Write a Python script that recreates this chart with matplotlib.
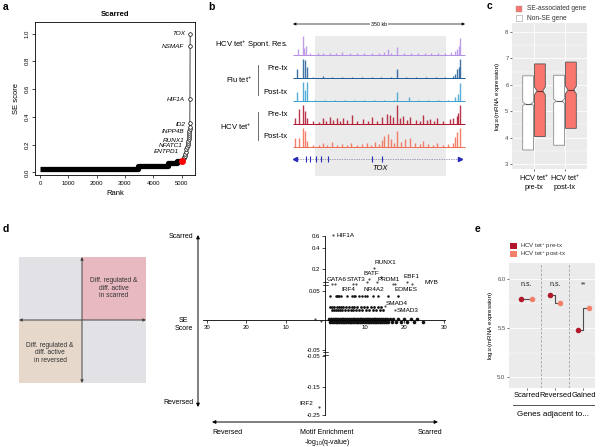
import matplotlib
matplotlib.use("Agg")
import matplotlib.pyplot as plt
import numpy as np
from matplotlib.patches import Rectangle

plt.rcParams["font.family"] = ["Liberation Sans", "DejaVu Sans"]
plt.rcParams["mathtext.fontset"] = "custom"
plt.rcParams["mathtext.rm"] = "Liberation Sans"
plt.rcParams["mathtext.it"] = "Liberation Sans:italic"

W, H = 600, 447

# ---------------- data ----------------
# a: super-enhancer rank plot (scarred)
plateau_rank = [0, 3470, 4500, 4830, 5040]
plateau_score = [0.022, 0.045, 0.065, 0.085, 0.085]
top_rank = [5070, 5090, 5110, 5130, 5150, 5170, 5190, 5210, 5225, 5240, 5250,
            5258, 5264, 5270, 5275, 5280, 5284, 5288, 5292, 5296, 5300]
top_score = [0.10, 0.11, 0.12, 0.135, 0.15, 0.165, 0.18, 0.195, 0.21, 0.225, 0.24,
             0.255, 0.27, 0.285, 0.30, 0.315, 0.33, 0.355, 0.527, 0.909, 1.0]
red_rank = [5020]
red_score = [0.085]
a_labels = ["TOX", "NSMAF", "HIF1A", "ID2", "INPP4B", "RUNX1", "NFATC1", "ENTPD1"]
a_label_x = [5115, 5090, 5115, 5140, 5090, 5090, 5020, 4900]
a_label_y = [1.0, 0.909, 0.527, 0.345, 0.295, 0.23, 0.19, 0.148]

# b: genome tracks at the TOX locus (position in kb, relative peak height)
spont_pos = [10, 20, 23, 26, 35, 50, 62, 75, 88, 100, 115, 130, 145, 160, 175, 185,
             193, 200, 212, 225, 240, 255, 268, 280, 295, 310, 322, 330, 334, 337, 340]
spont_h = [0.3, 1.0, 0.35, 0.45, 0.1, 0.08, 0.12, 0.1, 0.09, 0.14, 0.1, 0.12, 0.08, 0.13,
           0.1, 0.15, 0.3, 0.12, 0.4, 0.1, 0.12, 0.08, 0.13, 0.1, 0.09, 0.12, 0.15, 0.2,
           0.3, 0.5, 0.9]
flu_pre_pos = [8, 20, 24, 28, 40, 60, 80, 100, 120, 140, 160, 180, 200, 212, 230, 250,
               270, 290, 310, 325, 330, 334, 338, 340]
flu_pre_h = [0.5, 1.0, 0.95, 0.6, 0.06, 0.08, 0.05, 0.07, 0.05, 0.06, 0.05, 0.07, 0.06,
             0.5, 0.05, 0.06, 0.05, 0.06, 0.05, 0.08, 0.2, 0.45, 0.6, 1.0]
flu_post_pos = [8, 20, 24, 28, 45, 65, 85, 105, 125, 145, 165, 185, 205, 212, 236, 255,
                275, 295, 315, 330, 336, 340]
flu_post_h = [0.45, 1.0, 0.6, 1.0, 0.05, 0.07, 0.05, 0.06, 0.05, 0.07, 0.05, 0.06, 0.05,
              0.45, 0.2, 0.05, 0.06, 0.05, 0.06, 0.2, 0.35, 0.95]
hcv_pre_pos = [4, 12, 20, 24, 28, 40, 52, 61, 68, 75, 82, 89, 95, 102, 110, 120, 130,
               143, 152, 160, 170, 181, 191, 197, 204, 212, 218, 224, 231, 238, 250,
               258, 265, 272, 279, 286, 293, 305, 319, 326, 334, 336, 340]
hcv_pre_h = [0.3, 0.8, 1.0, 0.7, 0.3, 0.15, 0.12, 0.3, 0.15, 0.35, 0.2, 0.3, 0.18, 0.3,
             0.2, 0.45, 0.15, 0.25, 0.15, 0.35, 0.15, 0.35, 0.55, 0.5, 0.35, 1.0, 0.3,
             0.4, 0.2, 0.35, 0.2, 0.15, 0.5, 0.2, 0.25, 0.15, 0.3, 0.15, 0.25, 0.3, 0.4,
             0.6, 1.0]
hcv_post_pos = [4, 12, 20, 24, 28, 40, 52, 61, 70, 79, 90, 100, 110, 118, 130, 140, 150,
                158, 167, 175, 181, 185, 193, 199, 206, 212, 220, 228, 238, 248, 258, 265,
                275, 285, 293, 305, 315, 325, 330, 334, 340]
hcv_post_h = [0.5, 0.5, 1.0, 0.85, 0.3, 0.1, 0.12, 0.2, 0.12, 0.25, 0.1, 0.15, 0.12, 0.2,
              0.1, 0.15, 0.2, 0.12, 0.25, 0.15, 0.35, 0.6, 0.7, 0.4, 0.2, 0.85, 0.25, 0.4,
              0.45, 0.2, 0.15, 0.3, 0.15, 0.12, 0.2, 0.1, 0.15, 0.2, 0.55, 0.8, 1.0]
gene_exons = [26, 35, 47, 57, 71, 161, 181]

# c: expression of SE-associated vs non-SE genes
c_groups = ["HCV tet$^{+}$\npre-tx", "HCV tet$^{+}$\npost-tx"]
c_non_q1 = [3.53, 3.71]
c_non_med = [5.28, 5.38]
c_non_q3 = [6.34, 6.36]
c_non_ci = [(5.21, 5.35), (5.30, 5.46)]
c_se_q1 = [4.04, 4.35]
c_se_med = [5.77, 5.80]
c_se_q3 = [6.79, 6.86]
c_se_ci = [(5.62, 5.92), (5.66, 5.95)]

# d: SE score vs motif enrichment
d_row0_top_x = [1.0, 1.5, 1.9, 2.4, 2.8, 3.3, 3.7, 4.2, 4.6, 5.1, 5.5, 6.0, 6.4, 6.9,
                7.3, 7.8, 8.2, 8.7, 9.1, 9.6, 10.0, 10.5, 10.9, 11.4, 11.8, 12.3, 12.7,
                13.2, 13.6, 14.1, 14.5, 15.0, 15.6, 16.3, 17.2, 18.4, 19.9, 21.6, 23.3]
d_row0_bot_x = [1.2, 1.7, 2.1, 2.6, 3.0, 3.5, 3.9, 4.4, 4.8, 5.3, 5.7, 6.2, 6.6, 7.1,
                7.5, 8.0, 8.4, 8.9, 9.3, 9.8, 10.2, 10.7, 11.1, 11.6, 12.0, 12.5, 12.9,
                13.4, 13.8, 14.3, 14.8, 15.3, 15.9, 16.8, 17.8, 19.1, 20.6, 22.4, 24.8]
d_row2_top_x = [1.3, 1.8, 2.3, 2.9, 3.4, 4.0, 4.6, 5.3, 6.1, 6.8, 7.4, 8.1, 9.0, 9.8,
                10.6, 11.5, 12.4, 13.3, 14.2]
d_row2_bot_x = [1.6, 2.1, 2.6, 3.2, 3.7, 4.3, 5.0, 5.7, 6.5, 7.1, 7.8, 8.6, 9.4, 10.2,
                11.0, 12.0, 12.9, 13.8, 14.6]
d_row4_x = [1.2, 2.7, 3.0, 3.3, 3.5, 4.1, 5.4, 6.7, 7.3, 7.6, 8.6, 9.2, 10.0, 10.5,
            12.2, 13.4, 15.9, 18.4]
d_rows_y = [0.0025, -0.0025, 0.022, 0.018, 0.042]
d_other_x = [2.0, 12.4, 1.6, 2.5, 7.1, 7.9, 10.5, 11.1, 13.2, 14.1, 17.1, 17.6, 20.8,
             21.9, 15.1, 17.6, -1.5, -2.5, -1.2]
d_other_y = [0.61, 0.215, 0.10, 0.10, 0.10, 0.10, 0.11, 0.13, 0.11, 0.15, 0.10, 0.10,
             0.115, 0.10, 0.024, 0.017, -0.22, 0.001, -0.002]
d_labels = ["HIF1A", "RUNX1", "BATF", "GATA6", "STAT3", "PRDM1", "EBF1", "MYB", "IRF4",
            "NR4A2", "EOMES", "SMAD4", "SMAD3", "IRF2"]
d_label_x = [2.9, 12.4, 9.6, 0.35, 5.4, 13.2, 19.75, 25.0, 4.1, 9.6, 17.6, 15.3, 18.1, -3.0]
d_label_y = [0.616, 0.263, 0.172, 0.13, 0.126, 0.126, 0.153, 0.107, 0.057, 0.057, 0.057,
             0.029, 0.017, -0.209]
d_yticks = [0.6, 0.4, 0.2, 0.05, -0.05, -0.056, -0.15, -0.25]
d_yticklabels = ["0.6", "0.4", "0.2", "0.05", "-0.05", "-0.05", "-0.15", "-0.25"]
# broken SE-score axis: value -> vertical position
d_knot_val = [-0.35, -0.25, -0.15, -0.056, -0.05, 0.0, 0.05, 0.1, 0.2, 0.4, 0.6, 0.8]
d_knot_pos = [443.3, 415, 386.7, 356, 350, 320, 291, 283.7, 269.3, 248.3, 236, 223.7]

# e: expression of genes adjacent to scarred / reversed / gained SEs
e_groups = ["Scarred", "Reversed", "Gained"]
e_pre = [5.80, 5.84, 5.48]
e_post = [5.80, 5.76, 5.70]
e_sig = ["n.s.", "n.s.", "**"]


def rect(x0, y0, x1, y1):
    return [x0 / W, 1 - y1 / H, (x1 - x0) / W, (y1 - y0) / H]


fig = plt.figure(figsize=(W / 100, H / 100), dpi=100)

ov = fig.add_axes([0, 0, 1, 1])
ov.set_xlim(0, W)
ov.set_ylim(H, 0)
ov.axis("off")

for lab, (x, y) in zip("abcde", [(3, 7), (208, 7), (487, 6), (3, 229), (475, 229)]):
    ov.text(x, y, lab, fontsize=7.5, fontweight="bold", va="center", ha="left")

# ---------------- panel a ----------------
ax_a = fig.add_axes(rect(35, 22, 195, 175))
ax_a.step(plateau_rank, plateau_score, where="post", color="black", lw=3.8,
          solid_capstyle="butt")
ax_a.plot(top_rank, top_score, "-o", color="black", mfc="white", mec="black",
          ms=2.6, mew=0.5, lw=0.5)
ax_a.plot(red_rank, red_score, "o", color="red", ms=4)
for name, lx, ly in zip(a_labels, a_label_x, a_label_y):
    ax_a.text(lx, ly, name, ha="right", va="center", style="italic", fontsize=4.6)
ax_a.set_xlim(-175, 5470)
ax_a.set_ylim(-0.019, 1.083)
ax_a.set_xticks([0, 1000, 2000, 3000, 4000, 5000])
ax_a.set_yticks([0.0, 0.2, 0.4, 0.6, 0.8, 1.0])
ax_a.set_yticklabels(["0.0", "0.2", "0.4", "0.6", "0.8", "1.0"], rotation=90, va="center")
ax_a.tick_params(labelsize=4.3, length=2.5, width=0.5, pad=1.5)
for s in ax_a.spines.values():
    s.set_linewidth(0.6)
ax_a.set_xlabel("Rank", fontsize=5.5, labelpad=3)
ax_a.set_ylabel("SE score", fontsize=5.5, labelpad=3)
ax_a.set_title("Scarred", fontsize=5.5, fontweight="bold", pad=4)

# ---------------- panel b ----------------
ax_b = fig.add_axes(rect(280, 20, 470, 178))
ax_b.set_xlim(-26.5, 360.2)
ax_b.set_ylim(178, 20)
ax_b.axis("off")
ax_b.add_patch(Rectangle((45, 36), 266, 140, facecolor="#ebebeb", edgecolor="none",
                         zorder=0))
tracks = [
    (spont_pos, spont_h, "#b48ee6"),
    (flu_pre_pos, flu_pre_h, "#1f5a96"),
    (flu_post_pos, flu_post_h, "#3aa0d0"),
    (hcv_pre_pos, hcv_pre_h, "#b0122b"),
    (hcv_post_pos, hcv_post_h, "#f26a50"),
]
track_base = [55, 78, 101, 124, 147]
track_h = 19
for (pos, hts, col), base in zip(tracks, track_base):
    ax_b.vlines(pos, base, base - np.array(hts) * track_h, color=col, lw=1.0, alpha=0.85)
    ax_b.hlines(base, 0, 350, color=col, lw=0.7)
ax_b.plot([4, 340], [159, 159], color="#8080a0", lw=0.5, ls=(0, (2, 1.5)))
ax_b.vlines(gene_exons, 156, 162, color="#2a2ab8", lw=0.8)
ax_b.plot([4], [159], marker="<", ms=3, color="#2a2ab8")
ax_b.plot([340], [159], marker=">", ms=3, color="#2a2ab8")
ax_b.text(177, 169, "TOX", style="italic", fontsize=5.5, ha="center", va="center")
ax_b.annotate("", xy=(0, 24), xytext=(350, 24),
              arrowprops=dict(arrowstyle="<|-|>", lw=0.5, color="black",
                              mutation_scale=4, shrinkA=0, shrinkB=0))
ax_b.text(175, 24, "350 kb", fontsize=3.8, ha="center", va="center",
          bbox=dict(facecolor="white", edgecolor="none", pad=0.5))

ov.text(288, 45, "HCV tet$^{+}$ Spont. Res.", fontsize=5.5, ha="right", va="center")
ov.text(252, 80, "Flu tet$^{+}$", fontsize=5.5, ha="right", va="center")
ov.text(252, 127, "HCV tet$^{+}$", fontsize=5.5, ha="right", va="center")
for y, t in [(69, "Pre-tx"), (92, "Post-tx"), (114, "Pre-tx"), (137, "Post-tx")]:
    ov.text(288, y, t, fontsize=5.5, ha="right", va="center")
ov.plot([258, 258], [65, 95], color="#555555", lw=0.6)
ov.plot([258, 258], [112, 140], color="#555555", lw=0.6)

# ---------------- panel c ----------------
ax_c = fig.add_axes(rect(512, 23, 587, 169))
ax_c.set_facecolor("#ebebeb")
non_stats = [dict(med=m, q1=a, q3=b, whislo=a, whishi=b, cilo=ci[0], cihi=ci[1], fliers=[])
             for a, m, b, ci in zip(c_non_q1, c_non_med, c_non_q3, c_non_ci)]
se_stats = [dict(med=m, q1=a, q3=b, whislo=a, whishi=b, cilo=ci[0], cihi=ci[1], fliers=[])
            for a, m, b, ci in zip(c_se_q1, c_se_med, c_se_q3, c_se_ci)]
ax_c.bxp(non_stats, positions=[1 - 0.19, 2 - 0.19], widths=0.35, shownotches=True,
         showcaps=False, showfliers=False, patch_artist=True,
         boxprops=dict(facecolor="white", edgecolor="#8a8a8a", linewidth=0.6),
         medianprops=dict(color="#555555", linewidth=0.8),
         whiskerprops=dict(linewidth=0))
ax_c.bxp(se_stats, positions=[1 + 0.19, 2 + 0.19], widths=0.35, shownotches=True,
         showcaps=False, showfliers=False, patch_artist=True,
         boxprops=dict(facecolor="#f8766d", edgecolor="#555555", linewidth=0.6),
         medianprops=dict(color="#6b3030", linewidth=0.8),
         whiskerprops=dict(linewidth=0))
ax_c.set_xlim(0.29, 2.71)
ax_c.set_ylim(2.81, 8.34)
ax_c.set_xticks([1, 2])
ax_c.set_xticklabels(c_groups, fontsize=5.3)
ax_c.set_yticks([3, 4, 5, 6, 7, 8])
ax_c.set_yticks([3.5, 4.5, 5.5, 6.5, 7.5], minor=True)
ax_c.tick_params(axis="y", labelsize=4.3, labelcolor="#4d4d4d", length=1.5, width=0.5,
                 color="#333333", pad=1)
ax_c.tick_params(axis="y", which="minor", length=0)
ax_c.tick_params(axis="x", length=1.5, width=0.5, color="#333333", pad=1)
ax_c.grid(True, which="major", color="white", lw=0.6)
ax_c.grid(True, which="minor", axis="y", color="white", lw=0.3)
ax_c.set_axisbelow(True)
for s in ax_c.spines.values():
    s.set_visible(False)
ax_c.set_ylabel("log$_{10}$(mRNA expression)", fontsize=4.5, labelpad=2)

ov.add_patch(Rectangle((516, 6), 6, 6, facecolor="#f8766d", edgecolor="#999999", lw=0.3))
ov.add_patch(Rectangle((516, 15), 6, 6, facecolor="white", edgecolor="#999999", lw=0.4))
ov.text(527, 9, "SE-associated gene", fontsize=4.8, va="center", color="#333333")
ov.text(527, 18, "Non-SE gene", fontsize=4.8, va="center", color="#333333")

# ---------------- panel d: quadrant schematic ----------------
ov.add_patch(Rectangle((19, 257), 63, 63, facecolor="#e2e2e6", edgecolor="none"))
ov.add_patch(Rectangle((82, 257), 64, 63, facecolor="#e8b9c1", edgecolor="none"))
ov.add_patch(Rectangle((19, 320), 63, 63, facecolor="#e6d8ca", edgecolor="none"))
ov.add_patch(Rectangle((82, 320), 64, 63, facecolor="#e2e2e6", edgecolor="none"))
arrow = dict(arrowstyle="<|-|>", lw=0.7, color="#444444", mutation_scale=4,
             shrinkA=0, shrinkB=0)
ov.annotate("", xy=(82, 257), xytext=(82, 383), arrowprops=arrow)
ov.annotate("", xy=(19, 320), xytext=(146, 320), arrowprops=arrow)
ov.text(114, 288, "Diff. regulated &\ndiff. active\nin scarred", fontsize=4.8,
        ha="center", va="center", color="#333333", linespacing=1.1)
ov.text(50, 353, "Diff. regulated &\ndiff. active\nin reversed", fontsize=4.8,
        ha="center", va="center", color="#333333", linespacing=1.1)

# ---------------- panel d: scatter ----------------
kv = np.array(d_knot_val)
kq = -np.array(d_knot_pos)


def d_fwd(v):
    return np.interp(v, kv, kq)


def d_inv(u):
    return np.interp(u, kq, kv)


ax_d = fig.add_axes(rect(200, 225, 450, 425))
ax_d.patch.set_alpha(0)
ax_d.set_yscale("function", functions=(d_fwd, d_inv))
ax_d.set_xlim(-31.7, 31.57)
ax_d.set_ylim(float(d_inv(-425)), float(d_inv(-225)))
row_xs = [d_row0_top_x, d_row0_bot_x, d_row2_top_x, d_row2_bot_x, d_row4_x]
row_ms = [2.6, 2.6, 2.0, 2.0, 1.8]
for xs, yv, ms in zip(row_xs, d_rows_y, row_ms):
    ax_d.plot(xs, [yv] * len(xs), "o", color="#111111", ms=ms, mew=0)
ax_d.plot(d_other_x, d_other_y, "o", color="#555555", ms=1.6, mew=0)
for name, lx, ly in zip(d_labels, d_label_x, d_label_y):
    ax_d.text(lx, ly, name, fontsize=4.6, va="center",
              ha="right" if lx < 0 else "left")
for side in ["top", "right"]:
    ax_d.spines[side].set_visible(False)
ax_d.spines["left"].set_position(("data", 0))
ax_d.spines["bottom"].set_position(("data", 0))
ax_d.spines["left"].set_bounds(-0.25, 0.6)
ax_d.spines["bottom"].set_bounds(-31, 30.2)
for s in ["left", "bottom"]:
    ax_d.spines[s].set_linewidth(0.6)
ax_d.set_yticks(d_yticks)
ax_d.set_yticklabels(d_yticklabels)
ax_d.yaxis.set_minor_locator(matplotlib.ticker.NullLocator())
ax_d.set_xticks([-30, -20, -10, 10, 20, 30])
ax_d.set_xticklabels(["30", "20", "10", "10", "20", "30"])
ax_d.tick_params(labelsize=4.3, length=2, width=0.5, pad=1.5)
# axis break marks
for y in (282, 285, 352, 355):
    ov.plot([322.5, 328], [y, y], color="black", lw=0.5)

arrow_d = dict(arrowstyle="<|-|>", lw=0.7, color="black", mutation_scale=5,
               shrinkA=0, shrinkB=0)
ov.annotate("", xy=(198, 235), xytext=(198, 407), arrowprops=arrow_d)
ov.annotate("", xy=(212, 422), xytext=(438, 422), arrowprops=arrow_d)
ov.text(193, 236, "Scarred", fontsize=5, ha="right", va="center")
ov.text(193, 324, "SE\nScore", fontsize=5, ha="right", va="center", multialignment="center")
ov.text(193, 403, "Reversed", fontsize=5, ha="right", va="center")
ov.text(227, 432, "Reversed", fontsize=5, ha="center", va="center")
ov.text(327, 432, "Motif Enrichment", fontsize=5, ha="center", va="center")
ov.text(327, 442, "-log$_{10}$(q-value)", fontsize=5, ha="center", va="center")
ov.text(430, 432, "Scarred", fontsize=5, ha="center", va="center")

# ---------------- panel e ----------------
ax_e = fig.add_axes(rect(509, 263, 595, 388))
ax_e.set_facecolor("#ebebeb")
xe = np.arange(len(e_groups))
for x, a, b in zip(xe, e_pre, e_post):
    ax_e.step([x - 0.19, x + 0.19], [a, b], where="mid", color="#4d4d4d", lw=0.8, zorder=2)
ax_e.plot(xe - 0.19, e_pre, "o", color="#b2182b", ms=4, mew=0, zorder=3)
ax_e.plot(xe + 0.19, e_post, "o", color="#f4806a", ms=4, mew=0, zorder=3)
for x, t in zip(xe, e_sig):
    ax_e.text(x, 5.94, t, fontsize=5, ha="center", va="center", color="#222222")
for x in (0.5, 1.5):
    ax_e.axvline(x, color="#a0a0a0", ls=(0, (3, 2)), lw=0.6, zorder=1)
ax_e.set_xlim(-0.63, 2.41)
ax_e.set_ylim(4.888, 6.163)
ax_e.set_xticks(xe)
ax_e.set_xticklabels(e_groups, fontsize=5.4)
ax_e.set_yticks([5.0, 5.5, 6.0])
ax_e.set_yticks([5.25, 5.75], minor=True)
ax_e.tick_params(axis="y", labelsize=4.3, labelcolor="#4d4d4d", length=1.5, width=0.5,
                 color="#333333", pad=1)
ax_e.tick_params(axis="y", which="minor", length=0)
ax_e.tick_params(axis="x", length=1.5, width=0.5, color="#333333", pad=1.5)
ax_e.grid(True, which="major", axis="y", color="white", lw=0.6)
ax_e.grid(True, which="minor", axis="y", color="white", lw=0.3)
ax_e.set_axisbelow(True)
for s in ax_e.spines.values():
    s.set_visible(False)
ax_e.set_ylabel("log$_{10}$(mRNA expression)", fontsize=4.5, labelpad=2)

ov.add_patch(Rectangle((510, 243), 6.5, 6, facecolor="#b2182b", edgecolor="none"))
ov.add_patch(Rectangle((510, 251), 6.5, 6, facecolor="#f4806a", edgecolor="none"))
ov.text(520.5, 246, "HCV tet$^{+}$ pre-tx", fontsize=4.4, va="center", color="#333333")
ov.text(520.5, 254, "HCV tet$^{+}$ post-tx", fontsize=4.4, va="center", color="#333333")
ov.plot([513, 594], [405, 405], color="#555555", lw=0.7)
ov.text(553, 414, "Genes adjacent to...", fontsize=5.8, ha="center", va="center")

fig.savefig("out.png", dpi=100)
